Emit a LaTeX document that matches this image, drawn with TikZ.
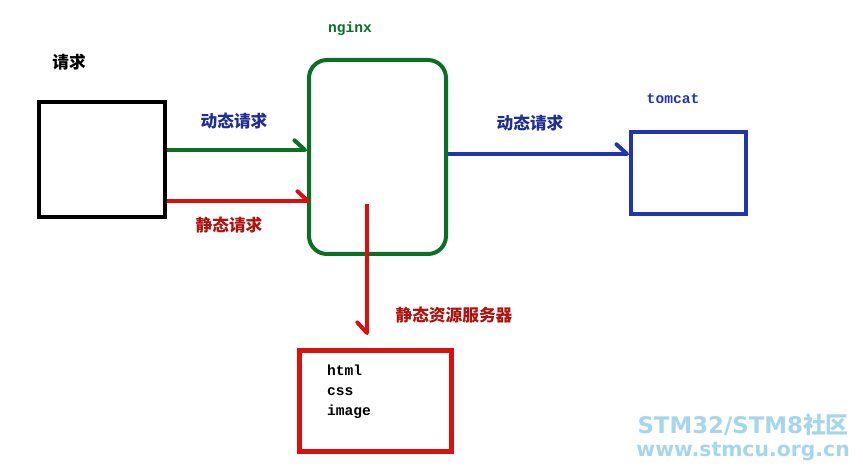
\documentclass[tikz,border=0pt]{standalone}
\usepackage{fontspec}
\setmonofont{Liberation Mono}
\newfontfamily\cjk{Noto Sans CJK SC}
\newfontfamily\wmfont{DejaVu Sans}
\usetikzlibrary{arrows.meta,positioning}
\definecolor{ngxgreen}{RGB}{10,112,36}
\definecolor{tcblue}{RGB}{34,52,178}
\definecolor{lblblue}{RGB}{30,46,150}
\definecolor{sred}{RGB}{218,16,14}
\definecolor{lblred}{RGB}{176,18,14}
\definecolor{wmblue}{RGB}{166,214,238}
\begin{document}
\begin{tikzpicture}[box/.style={draw,line width=0.08cm,inner sep=0pt},
                    lbl/.style={font=\cjk\bfseries\fontsize{9.5}{11}\selectfont},
                    mono/.style={font=\ttfamily\bfseries\fontsize{8.3}{11.3}\selectfont},
                    link/.style={line width=0.08cm,-{Straight Barb[left,round,length=6pt,width=11pt]}}]
\useasboundingbox[fill=white] (0,0) rectangle (17.26,-9.42);
\node[box,minimum width=2.52cm,minimum height=2.3cm] (req) at (2.04,-3.19) {};
\node[box,ngxgreen,rounded corners=0.36cm,minimum width=2.74cm,minimum height=3.88cm] (nginx) at (7.55,-3.14) {};
\node[box,tcblue,minimum width=2.3cm,minimum height=1.64cm] (tomcat) at (13.77,-3.46) {};
\node[box,sred,line width=0.1cm,minimum width=3.04cm,minimum height=2.02cm] (static) at (7.51,-8.02) {};
\node[lbl] (reqlbl) at (1.38,-1.24) {请求};
\node[mono,ngxgreen] (ngxlbl) at (7.0,-0.58) {nginx};
\node[mono,tcblue] (tclbl) at (13.46,-1.98) {tomcat};
\node[lbl,lblblue] (dyn1) at (4.68,-2.42) {动态请求};
\node[lbl,lblred] (sta1) at (4.58,-4.5) {静态请求};
\node[lbl,lblblue] (dyn2) at (10.6,-2.46) {动态请求};
\node[lbl,lblred] (stalbl) at (9.08,-6.3) {静态资源服务器};
\node[mono,align=left,anchor=north west] (files) at (6.42,-7.18) {html\\css\\image};
\node[font=\wmfont\bfseries\fontsize{13}{16}\selectfont,wmblue,anchor=east] (wm1) at (17.1,-8.5) {STM32/STM8{\cjk\bfseries 社区}};
\node[font=\wmfont\bfseries\fontsize{11.6}{16}\selectfont,wmblue,anchor=east] (wm2) at (17.12,-9.04) {www.stmcu.org.cn};
\draw[link,ngxgreen] ([yshift=0.19cm]req.east) -- ([yshift=0.19cm]req.east -| nginx.west);
\draw[link,sred] ([yshift=-0.83cm]req.east) -- ([xshift=0.06cm,yshift=-0.83cm]req.east -| nginx.west);
\draw[link,tcblue] ([yshift=0.06cm]nginx.east) -- ([yshift=0.06cm]nginx.east -| tomcat.west);
\coordinate (sfrom) at ([xshift=-0.21cm,yshift=-0.94cm]nginx.center);
\draw[link,sred,-{Straight Barb[right,round,length=6pt,width=11pt]}] (sfrom) -- ([yshift=0.26cm]sfrom |- static.north);
\end{tikzpicture}
\end{document}
